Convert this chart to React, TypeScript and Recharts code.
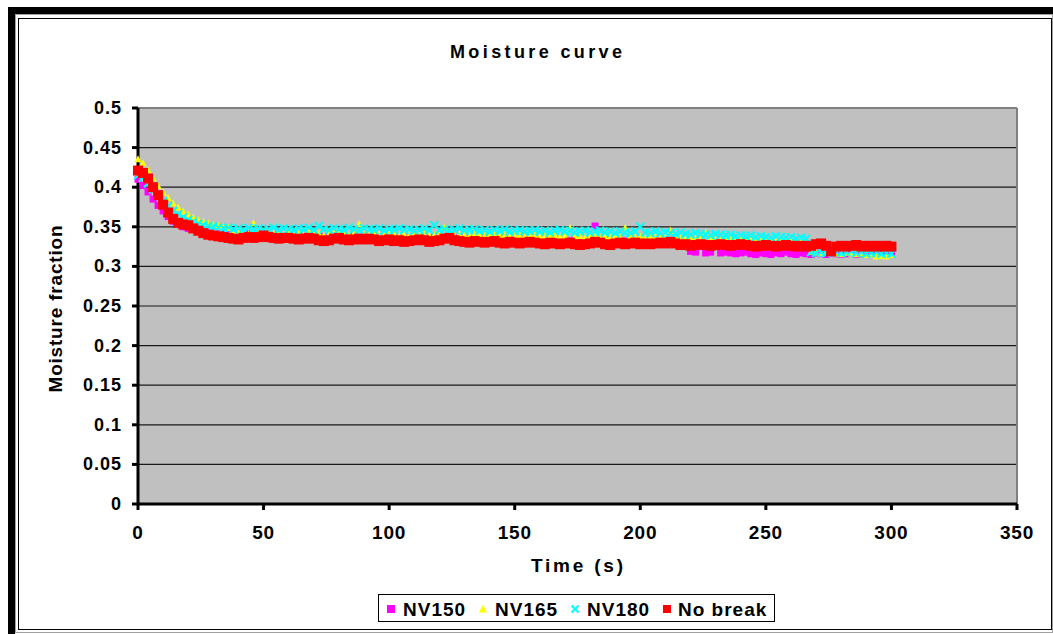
import React from "react"
import {
  ScatterChart,
  Scatter,
  XAxis,
  YAxis,
  CartesianGrid,
  ReferenceLine,
} from "recharts"

// time (s), sampled every 2 s
const time = [
  0, 2, 4, 6, 8, 10, 12, 14, 16, 18, 20, 22, 24, 26, 28, 30,
  32, 34, 36, 38, 40, 42, 44, 46, 48, 50, 52, 54, 56, 58, 60,
  62, 64, 66, 68, 70, 72, 74, 76, 78, 80, 82, 84, 86, 88, 90,
  92, 94, 96, 98, 100, 102, 104, 106, 108, 110, 112, 114, 116, 118, 120,
  122, 124, 126, 128, 130, 132, 134, 136, 138, 140, 142, 144, 146, 148, 150,
  152, 154, 156, 158, 160, 162, 164, 166, 168, 170, 172, 174, 176, 178, 180,
  182, 184, 186, 188, 190, 192, 194, 196, 198, 200, 202, 204, 206, 208, 210,
  212, 214, 216, 218, 220, 222, 224, 226, 228, 230, 232, 234, 236, 238, 240,
  242, 244, 246, 248, 250, 252, 254, 256, 258, 260, 262, 264, 266, 268, 270,
  272, 274, 276, 278, 280, 282, 284, 286, 288, 290, 292, 294, 296, 298, 300,
]

const nv150 = [
  0.410, 0.402, 0.394, 0.385, 0.377, 0.370, 0.363, 0.357, 0.353, 0.350, 0.348, 0.347, 0.345, 0.344, 0.343, 0.342,
  0.341, 0.342, 0.340, 0.341, 0.339, 0.340, 0.341, 0.339, 0.340, 0.338, 0.340, 0.339, 0.340, 0.338, 0.339,
  0.338, 0.339, 0.337, 0.338, 0.339, 0.337, 0.338, 0.336, 0.337, 0.338, 0.336, 0.337, 0.338, 0.336, 0.337,
  0.336, 0.337, 0.335, 0.336, 0.337, 0.335, 0.336, 0.335, 0.336, 0.334, 0.335, 0.336, 0.334, 0.336, 0.335,
  0.334, 0.335, 0.334, 0.336, 0.334, 0.335, 0.333, 0.334, 0.335, 0.333, 0.334, 0.335, 0.333, 0.334, 0.333,
  0.334, 0.333, 0.332, 0.334, 0.333, 0.332, 0.333, 0.334, 0.332, 0.333, 0.332, 0.333, 0.331, 0.332, 0.333,
  0.351, 0.332, 0.331, 0.333, 0.332, 0.331, 0.332, 0.331, 0.332, 0.330, 0.331, 0.330, 0.331, 0.330, 0.331,
  0.330, 0.329, 0.330, 0.328, 0.319, 0.318, 0.329, 0.317, 0.318, 0.328, 0.317, 0.318, 0.317, 0.316, 0.317,
  0.318, 0.316, 0.315, 0.317, 0.316, 0.315, 0.317, 0.316, 0.318, 0.316, 0.315, 0.317, 0.316, 0.315, 0.317,
  0.316, 0.315, 0.317, 0.316, 0.315, 0.316, 0.317, 0.315, 0.316, 0.315, 0.317, 0.316, 0.315, 0.316, 0.315,
]

const nv165 = [
  0.436, 0.431, 0.422, 0.412, 0.402, 0.394, 0.387, 0.380, 0.375, 0.370, 0.366, 0.362, 0.359, 0.357, 0.355, 0.353,
  0.352, 0.350, 0.349, 0.344, 0.342, 0.345, 0.341, 0.355, 0.342, 0.344, 0.341, 0.342, 0.343, 0.341, 0.342,
  0.341, 0.342, 0.340, 0.343, 0.341, 0.342, 0.340, 0.341, 0.343, 0.342, 0.341, 0.340, 0.342, 0.354, 0.341,
  0.340, 0.342, 0.341, 0.340, 0.342, 0.341, 0.339, 0.341, 0.340, 0.342, 0.340, 0.341, 0.339, 0.340, 0.341,
  0.349, 0.340, 0.339, 0.341, 0.340, 0.339, 0.341, 0.340, 0.339, 0.340, 0.341, 0.339, 0.340, 0.338, 0.339,
  0.340, 0.338, 0.339, 0.340, 0.338, 0.339, 0.338, 0.340, 0.338, 0.339, 0.349, 0.338, 0.339, 0.337, 0.338,
  0.339, 0.337, 0.338, 0.337, 0.339, 0.337, 0.349, 0.338, 0.337, 0.338, 0.336, 0.337, 0.338, 0.336, 0.337,
  0.346, 0.337, 0.336, 0.335, 0.337, 0.336, 0.335, 0.343, 0.336, 0.335, 0.334, 0.336, 0.335, 0.334, 0.335,
  0.334, 0.333, 0.335, 0.334, 0.333, 0.334, 0.332, 0.333, 0.334, 0.332, 0.333, 0.331, 0.332, 0.319, 0.318,
  0.317, 0.319, 0.318, 0.317, 0.316, 0.318, 0.317, 0.316, 0.317, 0.315, 0.316, 0.313, 0.314, 0.313, 0.315,
]

const nv180 = [
  0.415, 0.412, 0.405, 0.397, 0.389, 0.382, 0.376, 0.370, 0.366, 0.362, 0.359, 0.356, 0.354, 0.352, 0.351, 0.350,
  0.349, 0.348, 0.349, 0.347, 0.348, 0.346, 0.349, 0.347, 0.348, 0.346, 0.347, 0.349, 0.346, 0.348, 0.347,
  0.346, 0.348, 0.347, 0.349, 0.346, 0.351, 0.347, 0.346, 0.348, 0.347, 0.346, 0.349, 0.347, 0.346, 0.348,
  0.347, 0.346, 0.348, 0.345, 0.347, 0.346, 0.348, 0.346, 0.347, 0.345, 0.346, 0.348, 0.346, 0.352, 0.346,
  0.347, 0.345, 0.346, 0.348, 0.345, 0.346, 0.347, 0.345, 0.346, 0.344, 0.346, 0.345, 0.347, 0.344, 0.345,
  0.346, 0.344, 0.345, 0.346, 0.344, 0.345, 0.343, 0.345, 0.346, 0.344, 0.345, 0.343, 0.344, 0.345, 0.343,
  0.344, 0.345, 0.343, 0.344, 0.342, 0.344, 0.343, 0.342, 0.344, 0.350, 0.343, 0.342, 0.344, 0.342, 0.343,
  0.342, 0.341, 0.343, 0.341, 0.340, 0.342, 0.341, 0.340, 0.339, 0.341, 0.340, 0.339, 0.340, 0.338, 0.339,
  0.338, 0.339, 0.337, 0.338, 0.337, 0.336, 0.338, 0.337, 0.336, 0.337, 0.335, 0.336, 0.335, 0.318, 0.317,
  0.318, 0.317, 0.319, 0.318, 0.317, 0.318, 0.319, 0.317, 0.318, 0.316, 0.317, 0.318, 0.316, 0.317, 0.316,
]

const noBreak = [
  0.421, 0.418, 0.411, 0.400, 0.390, 0.378, 0.368, 0.360, 0.355, 0.353, 0.352, 0.348, 0.345, 0.342, 0.340, 0.339,
  0.338, 0.337, 0.336, 0.335, 0.334, 0.336, 0.337, 0.336, 0.337, 0.339, 0.337, 0.336, 0.335, 0.336, 0.336,
  0.335, 0.334, 0.335, 0.336, 0.335, 0.333, 0.332, 0.333, 0.335, 0.336, 0.334, 0.333, 0.334, 0.335, 0.334,
  0.335, 0.334, 0.332, 0.333, 0.334, 0.332, 0.333, 0.331, 0.332, 0.333, 0.334, 0.333, 0.331, 0.332, 0.333,
  0.335, 0.336, 0.333, 0.332, 0.331, 0.330, 0.332, 0.331, 0.330, 0.331, 0.332, 0.330, 0.329, 0.331, 0.330,
  0.329, 0.330, 0.331, 0.330, 0.329, 0.328, 0.330, 0.329, 0.328, 0.329, 0.330, 0.328, 0.327, 0.328, 0.329,
  0.331, 0.330, 0.328, 0.327, 0.329, 0.330, 0.328, 0.329, 0.330, 0.328, 0.329, 0.328, 0.329, 0.330, 0.329,
  0.331, 0.329, 0.327, 0.328, 0.326, 0.327, 0.328, 0.327, 0.326, 0.327, 0.328, 0.327, 0.326, 0.327, 0.328,
  0.327, 0.326, 0.325, 0.326, 0.327, 0.326, 0.325, 0.326, 0.327, 0.326, 0.325, 0.326, 0.325, 0.326, 0.328,
  0.329, 0.326, 0.319, 0.325, 0.326, 0.325, 0.326, 0.327, 0.325, 0.326, 0.325, 0.326, 0.325, 0.326, 0.325,
]

const xTicks = [0, 50, 100, 150, 200, 250, 300, 350]
const yTicks = [0, 0.05, 0.1, 0.15, 0.2, 0.25, 0.3, 0.35, 0.4, 0.45, 0.5]

const toPoints = (vals: number[]) => time.map((t, i) => ({ t, v: vals[i] }))

const FONT = "'Liberation Sans', Arial, sans-serif"

const Square = ({ cx, cy, size, fill }: any) => (
  <rect x={cx - size / 2} y={cy - size / 2} width={size} height={size} fill={fill} />
)

const Triangle = ({ cx, cy, size, fill }: any) => (
  <polygon
    points={`${cx},${cy - size / 2} ${cx + size / 2},${cy + size / 2} ${cx - size / 2},${cy + size / 2}`}
    fill={fill}
  />
)

const Cross = ({ cx, cy, size, stroke }: any) => {
  const h = size / 2
  return (
    <path
      d={`M${cx - h},${cy - h}L${cx + h},${cy + h}M${cx - h},${cy + h}L${cx + h},${cy - h}`}
      stroke={stroke}
      strokeWidth={2}
      fill="none"
    />
  )
}

const YTick = ({ x, y, payload }: any) => (
  <text
    x={x}
    y={y}
    dy={6}
    textAnchor="end"
    fontFamily={FONT}
    fontSize={18}
    fontWeight="bold"
    letterSpacing={1}
    fill="#000"
  >
    {String(payload.value)}
  </text>
)

const XTick = ({ x, y, payload }: any) => (
  <text
    x={x}
    y={y}
    dy={27}
    textAnchor="middle"
    fontFamily={FONT}
    fontSize={19}
    fontWeight="bold"
    letterSpacing={0.8}
    fill="#000"
  >
    {String(payload.value)}
  </text>
)

const legendItems = [
  { name: "NV150", mx: 391, tx: 403, kind: "square", color: "#FF00FF" },
  { name: "NV165", mx: 483, tx: 495, kind: "triangle", color: "#FFFF00" },
  { name: "NV180", mx: 575, tx: 587, kind: "cross", color: "#00FFFF" },
  { name: "No break", mx: 667, tx: 678, kind: "square", color: "#FF0000" },
]

export default function App() {
  return (
    <div style={{ position: "absolute", left: 0, top: 0, width: 1053, height: 634, background: "#fff" }}>
      {/* excel-style chart frame */}
      <div
        style={{
          position: "absolute",
          left: 8,
          top: 7,
          width: 1045,
          height: 627,
          borderLeft: "7px solid #000",
          borderTop: "7px solid #000",
          boxSizing: "border-box",
        }}
      />
      <div
        style={{
          position: "absolute",
          left: 15,
          top: 14,
          width: 1038,
          height: 619,
          border: "1px solid #a0a0a0",
          boxSizing: "border-box",
        }}
      />
      <div
        style={{
          position: "absolute",
          left: 18,
          top: 18,
          width: 1034,
          height: 612,
          border: "1px solid #000",
          boxSizing: "border-box",
          background: "#fff",
        }}
      />
      <div style={{ position: "absolute", left: 0, top: 0 }}>
        <ScatterChart width={1053} height={634} margin={{ top: 108, right: 36, bottom: 100, left: 78 }}>
          <CartesianGrid vertical={false} stroke="#1a1a1a" strokeWidth={1.2} fill="#C0C0C0" fillOpacity={1} />
          <XAxis
            type="number"
            dataKey="t"
            domain={[0, 350]}
            ticks={xTicks}
            height={30}
            axisLine={{ stroke: "#000", strokeWidth: 3 }}
            tickLine={{ stroke: "#000", strokeWidth: 3 }}
            tickSize={6}
            tick={<XTick />}
            interval={0}
          />
          <YAxis
            type="number"
            dataKey="v"
            domain={[0, 0.5]}
            ticks={yTicks}
            width={60}
            axisLine={{ stroke: "#000", strokeWidth: 3 }}
            tickLine={{ stroke: "#000", strokeWidth: 3 }}
            tickSize={6}
            tickMargin={10}
            tick={<YTick />}
            interval={0}
          />
          <ReferenceLine y={0.5} stroke="#808080" strokeWidth={2} />
          <ReferenceLine x={350} stroke="#808080" strokeWidth={2} />
          <Scatter
            name="NV150"
            data={toPoints(nv150)}
            isAnimationActive={false}
            shape={(p: any) => <Square cx={p.cx} cy={p.cy} size={7} fill="#FF00FF" />}
          />
          <Scatter
            name="NV165"
            data={toPoints(nv165)}
            isAnimationActive={false}
            shape={(p: any) => <Triangle cx={p.cx} cy={p.cy} size={7} fill="#FFFF00" />}
          />
          <Scatter
            name="NV180"
            data={toPoints(nv180)}
            isAnimationActive={false}
            shape={(p: any) => <Cross cx={p.cx} cy={p.cy} size={8} stroke="#00FFFF" />}
          />
          <Scatter
            name="No break"
            data={toPoints(noBreak)}
            isAnimationActive={false}
            shape={(p: any) => <Square cx={p.cx} cy={p.cy} size={10} fill="#FF0000" />}
          />

          {/* title and axis titles */}
          <text x={536} y={58} textAnchor="middle" fontFamily={FONT} fontSize={18} fontWeight="bold" textLength={172} lengthAdjust="spacing">
            Moisture curve
          </text>
          <text x={577} y={572} textAnchor="middle" fontFamily={FONT} fontSize={19} fontWeight="bold" textLength={92} lengthAdjust="spacing">
            Time (s)
          </text>
          <text
            x={62}
            y={309}
            transform="rotate(-90 62 309)"
            textAnchor="middle"
            fontFamily={FONT}
            fontSize={19}
            fontWeight="bold"
            textLength={167}
            lengthAdjust="spacing"
          >
            Moisture fraction
          </text>

          {/* legend */}
          <rect x={378.5} y={594.5} width={396} height={27} fill="#fff" stroke="#000" strokeWidth={1} />
          {legendItems.map((it) => (
            <g key={it.name}>
              {it.kind === "square" && <Square cx={it.mx} cy={609} size={8} fill={it.color} />}
              {it.kind === "triangle" && <Triangle cx={it.mx} cy={608.5} size={8} fill={it.color} />}
              {it.kind === "cross" && <Cross cx={it.mx} cy={609} size={7} stroke={it.color} />}
              <text x={it.tx} y={615.5} fontFamily={FONT} fontSize={19} fontWeight="bold" letterSpacing={1}>
                {it.name}
              </text>
            </g>
          ))}
        </ScatterChart>
      </div>
    </div>
  )
}
